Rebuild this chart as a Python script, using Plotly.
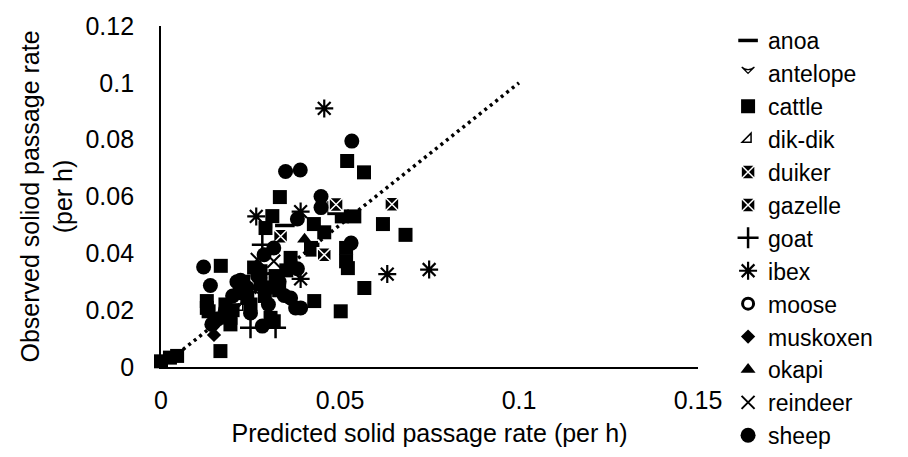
import plotly.graph_objects as go

# ---- data (predicted x, observed y) per species ----
anoa_x = [0.0346]
anoa_y = [0.0498]

antelope_x = [0.027]
antelope_y = [0.026]

cattle_x = [0.0, 0.0025, 0.0045, 0.0166, 0.0128, 0.0128, 0.0133, 0.0167, 0.0194, 0.0194,
            0.0241, 0.0278, 0.0278, 0.0306, 0.0315, 0.0292, 0.0311, 0.0332, 0.0362, 0.0419,
            0.0423, 0.0427, 0.0428, 0.0456, 0.0484, 0.0505, 0.054, 0.0517, 0.0517, 0.0522,
            0.0502, 0.052, 0.0567, 0.062, 0.0683, 0.0568, 0.020, 0.022, 0.025, 0.030,
            0.032, 0.026, 0.029, 0.019, 0.023, 0.033, 0.035, 0.018]
cattle_y = [0.002, 0.0033, 0.0039, 0.0056, 0.0208, 0.0232, 0.0196, 0.0356, 0.015, 0.0173,
            0.0243, 0.029, 0.0337, 0.0173, 0.0161, 0.0489, 0.0531, 0.0598, 0.0384, 0.0419,
            0.0413, 0.0503, 0.0232, 0.0474, 0.0559, 0.053, 0.053, 0.0419, 0.0372, 0.0348,
            0.0196, 0.0725, 0.0685, 0.0503, 0.0465, 0.0278, 0.020, 0.026, 0.022, 0.028,
            0.032, 0.035, 0.025, 0.018, 0.030, 0.027, 0.034, 0.022]

dikdik_x = [0.022]
dikdik_y = [0.021]

duiker_x = [0.0334]
duiker_y = [0.046]

gazelle_x = [0.0489, 0.0645, 0.0456]
gazelle_y = [0.0572, 0.0573, 0.0395]

goat_x = [0.0283, 0.025, 0.032]
goat_y = [0.043, 0.0138, 0.0138]

ibex_x = [0.0456, 0.0266, 0.039, 0.039, 0.0632, 0.0749]
ibex_y = [0.091, 0.053, 0.0547, 0.031, 0.0327, 0.0343]

moose_x = [0.030]
moose_y = [0.031]

muskoxen_x = [0.0148]
muskoxen_y = [0.0113]

okapi_x = [0.0401]
okapi_y = [0.045]

reindeer_x = [0.0315, 0.0269]
reindeer_y = [0.0372, 0.0378]

sheep_x = [0.0533, 0.0348, 0.0389, 0.0447, 0.0447, 0.0381, 0.0315, 0.0288, 0.0381, 0.0531,
           0.0119, 0.0138, 0.0222, 0.0212, 0.0344, 0.0362, 0.0376, 0.025, 0.0283, 0.0147,
           0.0142, 0.039, 0.020, 0.024, 0.027, 0.018, 0.016, 0.030, 0.033]
sheep_y = [0.0795, 0.0688, 0.0693, 0.060, 0.0561, 0.0521, 0.0419, 0.0395, 0.0346, 0.0436,
           0.0352, 0.0287, 0.0305, 0.030, 0.0252, 0.0243, 0.0208, 0.019, 0.0144, 0.0156,
           0.015, 0.0208, 0.025, 0.028, 0.032, 0.020, 0.017, 0.022, 0.030]

line_x = [0.0, 0.1]
line_y = [0.0, 0.1]

x_ticks = [0, 0.05, 0.1, 0.15]
x_tick_labels = ["0", "0.05", "0.1", "0.15"]
y_ticks = [0, 0.02, 0.04, 0.06, 0.08, 0.1, 0.12]
y_tick_labels = ["0", "0.02", "0.04", "0.06", "0.08", "0.1", "0.12"]

FONT = "Liberation Sans, Arial, sans-serif"
FS = 25

series = [
    ("anoa", anoa_x, anoa_y, dict(symbol="line-ew-open", size=14, color="black", line=dict(width=3.5, color="black"))),
    ("antelope", antelope_x, antelope_y, dict(symbol="arrow-wide-open", angle=180, size=9, color="black", line=dict(width=1.2, color="black"))),
    ("cattle", cattle_x, cattle_y, dict(symbol="square", size=14, color="black", line=dict(width=0))),
    ("dik-dik", dikdik_x, dikdik_y, dict(symbol="triangle-se-open", size=10, color="black", line=dict(width=1.5, color="black"))),
    ("duiker", duiker_x, duiker_y, dict(symbol="square-x", size=14, color="black", line=dict(width=1.5, color="white"))),
    ("gazelle", gazelle_x, gazelle_y, dict(symbol="square-x", size=14, color="black", line=dict(width=1.5, color="white"))),
    ("goat", goat_x, goat_y, dict(symbol="cross-thin-open", size=15, color="black", line=dict(width=2.5, color="black"))),
    ("ibex", ibex_x, ibex_y, dict(symbol="asterisk-open", size=15, color="black", line=dict(width=2.2, color="black"))),
    ("moose", moose_x, moose_y, dict(symbol="circle-open", size=11, color="black", line=dict(width=3, color="black"))),
    ("muskoxen", muskoxen_x, muskoxen_y, dict(symbol="diamond", size=11, color="black", line=dict(width=0))),
    ("okapi", okapi_x, okapi_y, dict(symbol="triangle-up", size=13, color="black", line=dict(width=0))),
    ("reindeer", reindeer_x, reindeer_y, dict(symbol="x-thin-open", size=13, color="black", line=dict(width=2, color="black"))),
    ("sheep", sheep_x, sheep_y, dict(symbol="circle", size=15, color="black", line=dict(width=0))),
]

fig = go.Figure()

fig.add_trace(go.Scatter(x=line_x, y=line_y, mode="lines", showlegend=False,
                         line=dict(color="black", width=3.5, dash="3px,4px"), hoverinfo="skip"))

for name, xs, ys, mk in series:
    fig.add_trace(go.Scatter(x=xs, y=ys, mode="markers", name=name, marker=mk,
                             cliponaxis=False))

fig.update_layout(
    width=908, height=457,
    margin=dict(l=161, r=210, t=23, b=90),
    paper_bgcolor="white", plot_bgcolor="white",
    font=dict(family=FONT, size=FS, color="black"),
    showlegend=True,
    legend=dict(x=1.056, xanchor="left", y=1.0, yanchor="top",
                font=dict(family=FONT, size=23, color="black"),
                itemwidth=30, bgcolor="rgba(0,0,0,0)", maxheight=600,
                tracegroupgap=0),
    xaxis=dict(range=[0, 0.15], tickvals=x_ticks, ticktext=x_tick_labels,
               showgrid=False, zeroline=False, showline=True, linecolor="black", linewidth=1.8,
               ticks="", ticklabelstandoff=10,
               tickfont=dict(family=FONT, size=FS, color="black"),
               title=dict(text="Predicted solid passage rate (per h)", standoff=12,
                          font=dict(family=FONT, size=FS, color="black"))),
    yaxis=dict(range=[0, 0.12], tickvals=y_ticks, ticktext=y_tick_labels,
               showgrid=False, zeroline=False, showline=True, linecolor="black", linewidth=1.8,
               ticks="", ticklabelstandoff=20,
               tickfont=dict(family=FONT, size=FS, color="black"),
               title=dict(text="Observed soliod passage rate<br>(per h)", standoff=6,
                          font=dict(family=FONT, size=FS, color="black"))),
)

fig.write_html("out.html")
